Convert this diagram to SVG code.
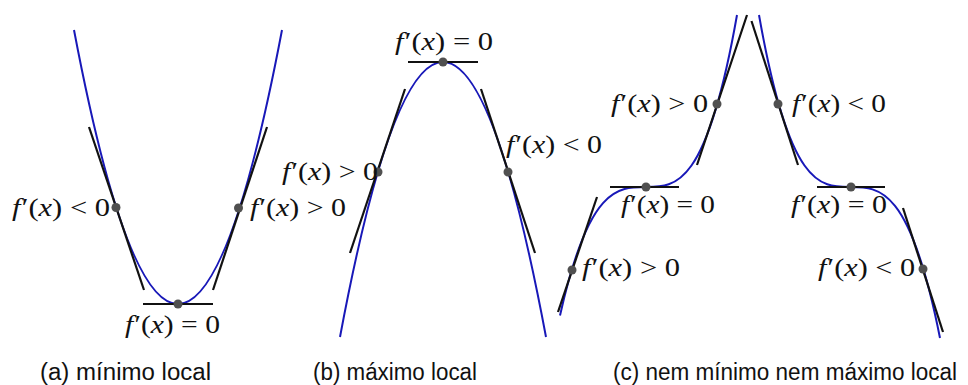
<svg xmlns="http://www.w3.org/2000/svg" width="968" height="385" viewBox="0 0 968 385">
<style>
.curve{fill:none;stroke:#1818b8;stroke-width:2}
.tan{fill:none;stroke:#111;stroke-width:2.2;stroke-linecap:butt}
.dot{fill:#505050}
.lbl{font-family:"Liberation Serif","DejaVu Serif",serif;font-size:25px;fill:#111}
.it{font-style:italic}
.cap{font-family:"Liberation Sans","DejaVu Sans",sans-serif;font-size:23px;fill:#111}
</style>
<rect width="968" height="385" fill="#fff"/>
<g id="panel-a">
<path class="curve" d="M74,30 Q178,578 282,30"/>
<line class="tan" x1="89" y1="127" x2="144" y2="290"/>
<line class="tan" x1="267" y1="127" x2="213" y2="290"/>
<line class="tan" x1="143" y1="304" x2="213" y2="304"/>
<circle class="dot" cx="116" cy="207.5" r="4.5"/>
<circle class="dot" cx="238.5" cy="208" r="4.5"/>
<circle class="dot" cx="178" cy="304" r="4.5"/>
<text class="lbl" x="12" y="216" textLength="98" lengthAdjust="spacingAndGlyphs"><tspan class="it">f</tspan><tspan dx="1">′(</tspan><tspan class="it">x</tspan>) &lt; 0</text>
<text class="lbl" x="250" y="216" textLength="96" lengthAdjust="spacingAndGlyphs"><tspan class="it">f</tspan><tspan dx="1">′(</tspan><tspan class="it">x</tspan>) &gt; 0</text>
<text class="lbl" x="125" y="333" textLength="95" lengthAdjust="spacingAndGlyphs"><tspan class="it">f</tspan><tspan dx="1">′(</tspan><tspan class="it">x</tspan>) = 0</text>
<text class="cap" x="40" y="380" textLength="171" lengthAdjust="spacingAndGlyphs">(a) mínimo local</text>
</g>
<g id="panel-b">
<path class="curve" d="M340,337 Q443,-213 546,337"/>
<line class="tan" x1="350" y1="253" x2="405" y2="89"/>
<line class="tan" x1="481" y1="89" x2="535" y2="253"/>
<line class="tan" x1="408" y1="62" x2="478" y2="62"/>
<circle class="dot" cx="378" cy="172" r="4.5"/>
<circle class="dot" cx="508" cy="172" r="4.5"/>
<circle class="dot" cx="443" cy="62" r="4.5"/>
<text class="lbl" x="395" y="50" textLength="98" lengthAdjust="spacingAndGlyphs"><tspan class="it">f</tspan><tspan dx="1">′(</tspan><tspan class="it">x</tspan>) = 0</text>
<text class="lbl" x="282" y="180" textLength="96" lengthAdjust="spacingAndGlyphs"><tspan class="it">f</tspan><tspan dx="1">′(</tspan><tspan class="it">x</tspan>) &gt; 0</text>
<text class="lbl" x="506" y="153" textLength="96" lengthAdjust="spacingAndGlyphs"><tspan class="it">f</tspan><tspan dx="1">′(</tspan><tspan class="it">x</tspan>) &lt; 0</text>
<text class="cap" x="313" y="380" textLength="164" lengthAdjust="spacingAndGlyphs">(b) máximo local</text>
</g>
<g id="panel-c">
<path class="curve" d="M560,315.5 C588.67,187 617.33,187 646,187 C676.33,187 706.67,187 737,15"/>
<path class="curve" d="M759,15 C789.33,187 819.67,187 850,187 C880,187 910,187 940,338"/>
<line class="tan" x1="558" y1="312" x2="597" y2="197"/>
<line class="tan" x1="610" y1="187" x2="679" y2="187"/>
<line class="tan" x1="697" y1="165" x2="747" y2="15"/>
<line class="tan" x1="751.5" y1="21" x2="798" y2="165"/>
<line class="tan" x1="817" y1="187" x2="885" y2="187"/>
<line class="tan" x1="903" y1="208" x2="943" y2="332"/>
<circle class="dot" cx="572" cy="270" r="4.5"/>
<circle class="dot" cx="646" cy="187" r="4.5"/>
<circle class="dot" cx="717" cy="104" r="4.5"/>
<circle class="dot" cx="778" cy="104" r="4.5"/>
<circle class="dot" cx="851" cy="187" r="4.5"/>
<circle class="dot" cx="923" cy="269" r="4.5"/>
<text class="lbl" x="611" y="112" textLength="97" lengthAdjust="spacingAndGlyphs"><tspan class="it">f</tspan><tspan dx="1">′(</tspan><tspan class="it">x</tspan>) &gt; 0</text>
<text class="lbl" x="792" y="112" textLength="94" lengthAdjust="spacingAndGlyphs"><tspan class="it">f</tspan><tspan dx="1">′(</tspan><tspan class="it">x</tspan>) &lt; 0</text>
<text class="lbl" x="621" y="213" textLength="94" lengthAdjust="spacingAndGlyphs"><tspan class="it">f</tspan><tspan dx="1">′(</tspan><tspan class="it">x</tspan>) = 0</text>
<text class="lbl" x="791" y="213" textLength="96" lengthAdjust="spacingAndGlyphs"><tspan class="it">f</tspan><tspan dx="1">′(</tspan><tspan class="it">x</tspan>) = 0</text>
<text class="lbl" x="582" y="276" textLength="98" lengthAdjust="spacingAndGlyphs"><tspan class="it">f</tspan><tspan dx="1">′(</tspan><tspan class="it">x</tspan>) &gt; 0</text>
<text class="lbl" x="818" y="276" textLength="97" lengthAdjust="spacingAndGlyphs"><tspan class="it">f</tspan><tspan dx="1">′(</tspan><tspan class="it">x</tspan>) &lt; 0</text>
<text class="cap" x="613" y="380" textLength="344" lengthAdjust="spacingAndGlyphs">(c) nem mínimo nem máximo local</text>
</g>
</svg>
